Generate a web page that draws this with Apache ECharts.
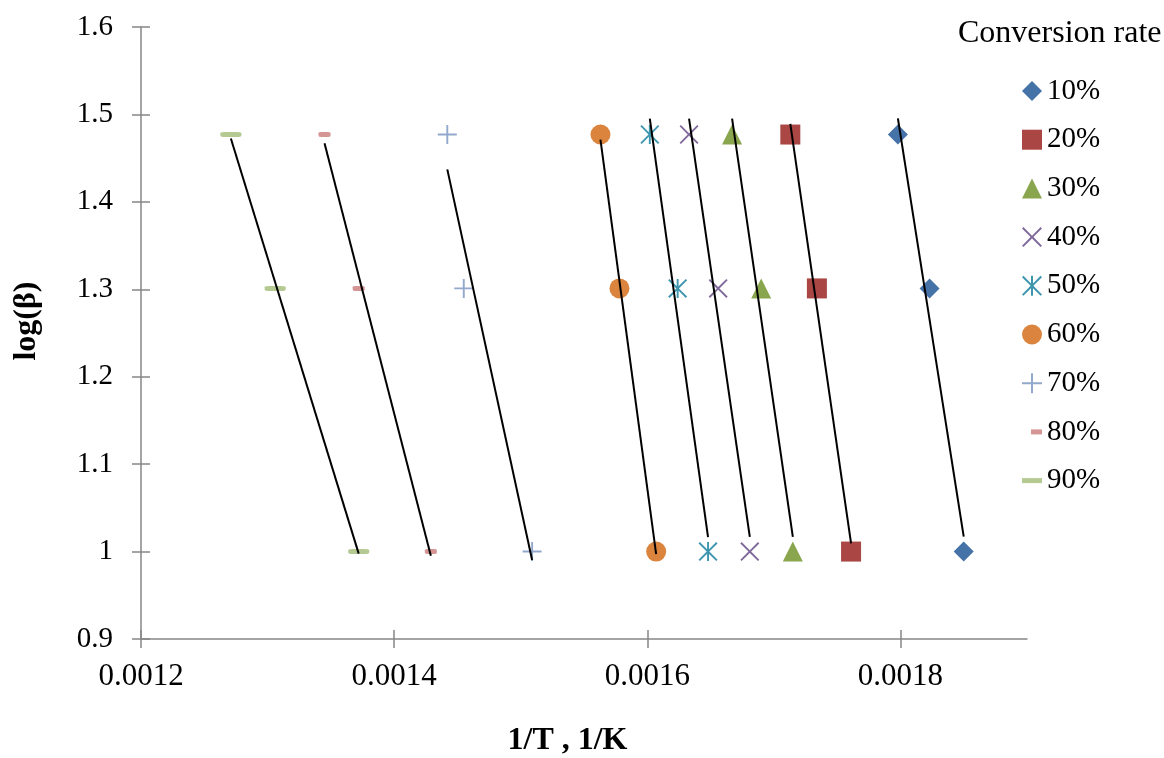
<!DOCTYPE html>
<html>
<head>
<meta charset="utf-8">
<script src="https://cdn.jsdelivr.net/npm/echarts@6/dist/echarts.min.js"></script>
<style>
  html, body { margin: 0; padding: 0; background: #ffffff; }
  #chart { width: 1164px; height: 758px; }
</style>
</head>
<body>
<div id="chart"></div>
<script>
// log10 of the heating rate (10, 20, 30 K/min)
const logBeta = [1.477, 1.301, 1.0];

// 1/T (1/K) reached at each conversion rate, one value per heating rate
const invT10 = [0.001798, 0.001823, 0.001850];
const invT20 = [0.001713, 0.001734, 0.001761];
const invT30 = [0.001667, 0.001690, 0.001715];
const invT40 = [0.001633, 0.001656, 0.001681];
const invT50 = [0.001602, 0.001624, 0.001648];
const invT60 = [0.001563, 0.001578, 0.001607];
const invT70 = [0.001442, 0.001455, 0.001509];
const invT80 = [0.001345, 0.001372, 0.001429];
const invT90 = [0.001271, 0.001306, 0.001372];

const conversionNames = ['10%', '20%', '30%', '40%', '50%', '60%', '70%', '80%', '90%'];
const invTSets = [invT10, invT20, invT30, invT40, invT50, invT60, invT70, invT80, invT90];

const xTicks = [0.0012, 0.0014, 0.0016, 0.0018];

// marker styling per conversion rate
const X_PATH = 'path://M1.4,0L10,8.6L18.6,0L20,1.4L11.4,10L20,18.6L18.6,20L10,11.4L1.4,20L0,18.6L8.6,10L0,1.4Z';
const STAR_PATH = 'path://M1.4,0L10,8.6L18.6,0L20,1.4L11.4,10L20,18.6L18.6,20L10,11.4L1.4,20L0,18.6L8.6,10L0,1.4Z' +
                  'M9,0L11,0L11,20L9,20Z';
const PLUS_PATH = 'path://M9,0H11V9H20V11H11V20H9V11H0V9H9Z';
const markerStyles = [
  { color: '#4572A7', symbol: 'diamond',   size: 20 },
  { color: '#AA4643', symbol: 'rect',      size: 20 },
  { color: '#89A54E', symbol: 'triangle',  size: 20 },
  { color: '#80699B', symbol: X_PATH,      size: 19 },
  { color: '#3D96AE', symbol: STAR_PATH,   size: 19 },
  { color: '#DB843D', symbol: 'circle',    size: 20 },
  { color: '#92A8CD', symbol: PLUS_PATH,   size: 19 },
  { color: '#D49594', symbol: 'roundRect', size: [12, 5] },
  { color: '#B5CA92', symbol: 'roundRect', size: [21, 5] }
];
const legendIcons = [
  'diamond', 'rect', 'triangle', X_PATH, STAR_PATH, 'circle', PLUS_PATH,
  'path://M0,0M20,20M9,7.5H20V12.5H9Z',
  'path://M0,0M20,20M0,7.5H20V12.5H0Z'
];

// least-squares trendline of logBeta against 1/T, spanning the data's x range
function trendline(xs, ys) {
  const n = xs.length;
  const mx = xs.reduce((a, b) => a + b, 0) / n;
  const my = ys.reduce((a, b) => a + b, 0) / n;
  let sxy = 0, sxx = 0;
  for (let i = 0; i < n; i++) {
    sxy += (xs[i] - mx) * (ys[i] - my);
    sxx += (xs[i] - mx) * (xs[i] - mx);
  }
  const slope = sxy / sxx;
  const icpt = my - slope * mx;
  const x0 = Math.min(...xs), x1 = Math.max(...xs);
  return [[x0, icpt + slope * x0], [x1, icpt + slope * x1]];
}

const FONT = "'Liberation Serif', 'Times New Roman', serif";
const AXIS_GREY = '#868686';

const series = [];
conversionNames.forEach((name, i) => {
  const st = markerStyles[i];
  series.push({
    name: name,
    type: 'scatter',
    xAxisIndex: 0,
    yAxisIndex: 0,
    symbol: st.symbol,
    symbolSize: st.size,
    itemStyle: { color: st.color, opacity: 1 },
    emphasis: { disabled: true },
    z: 2,
    data: invTSets[i].map((x, k) => [x, logBeta[k]])
  });
});
conversionNames.forEach((name, i) => {
  series.push({
    name: 'trend ' + name,
    type: 'line',
    xAxisIndex: 0,
    yAxisIndex: 0,
    symbol: 'none',
    silent: true,
    z: 3,
    lineStyle: { color: '#000000', width: 2 },
    data: trendline(invTSets[i], logBeta)
  });
});

const chart = echarts.init(document.getElementById('chart'), null, { renderer: 'canvas' });
chart.setOption({
  animation: false,
  backgroundColor: '#ffffff',
  textStyle: { fontFamily: FONT },
  title: {
    text: 'Conversion rate',
    left: 958,
    top: 18,
    padding: 0,
    textStyle: { fontFamily: FONT, fontSize: 32, fontWeight: 'normal', color: '#000000' }
  },
  legend: {
    orient: 'vertical',
    left: 1022,
    top: 76,
    padding: 0,
    itemWidth: 20,
    itemHeight: 20,
    itemGap: 18.7,
    selectedMode: false,
    textStyle: { fontFamily: FONT, fontSize: 29, color: '#000000', lineHeight: 30 },
    data: conversionNames.map((name, i) => ({ name: name, icon: legendIcons[i] }))
  },
  grid: {
    left: 141,
    right: 137,
    top: 27,
    bottom: 119,
    outerBoundsMode: 'none',
    containLabel: false
  },
  xAxis: [
    {
      type: 'value',
      min: 0.0012,
      max: 0.0019,
      interval: 0.0002,
      position: 'bottom',
      name: '1/T , 1/K',
      nameLocation: 'middle',
      nameGap: 102,
      nameTextStyle: {
        fontFamily: FONT, fontSize: 32, fontWeight: 'bold', color: '#000000',
        verticalAlign: 'middle', padding: [0, 33, 0, 0]
      },
      axisLine: { show: true, onZero: false, lineStyle: { color: AXIS_GREY, width: 1.5 } },
      axisTick: { show: true, inside: false, length: 9, customValues: xTicks, lineStyle: { color: AXIS_GREY, width: 1.5 } },
      axisLabel: {
        show: true, customValues: xTicks, margin: 22,
        fontFamily: FONT, fontSize: 31, color: '#000000',
        formatter: v => v.toFixed(4)
      },
      splitLine: { show: false }
    },
    {
      type: 'value',
      min: 0.0012,
      max: 0.0019,
      interval: 0.0002,
      position: 'bottom',
      axisLine: { show: false, onZero: false },
      axisTick: { show: true, inside: true, length: 9, customValues: xTicks, lineStyle: { color: AXIS_GREY, width: 1.5 } },
      axisLabel: { show: false },
      splitLine: { show: false }
    }
  ],
  yAxis: [
    {
      type: 'value',
      min: 0.9,
      max: 1.6,
      interval: 0.1,
      position: 'left',
      name: 'log(β)',
      nameLocation: 'middle',
      nameGap: 114,
      nameRotate: 90,
      nameTextStyle: {
        fontFamily: FONT, fontSize: 32, fontWeight: 'bold', color: '#000000',
        verticalAlign: 'middle', padding: [0, 0, 0, 24]
      },
      axisLine: { show: true, onZero: false, lineStyle: { color: AXIS_GREY, width: 1.5 } },
      axisTick: { show: true, inside: false, length: 9, lineStyle: { color: AXIS_GREY, width: 1.5 } },
      axisLabel: {
        show: true, margin: 28,
        fontFamily: FONT, fontSize: 29, color: '#000000',
        formatter: v => String(Math.round(v * 10) / 10)
      },
      splitLine: { show: false }
    },
    {
      type: 'value',
      min: 0.9,
      max: 1.6,
      interval: 0.1,
      position: 'left',
      axisLine: { show: false, onZero: false },
      axisTick: { show: true, inside: true, length: 9, lineStyle: { color: AXIS_GREY, width: 1.5 } },
      axisLabel: { show: false },
      splitLine: { show: false }
    }
  ],
  series: series
});
</script>
</body>
</html>
